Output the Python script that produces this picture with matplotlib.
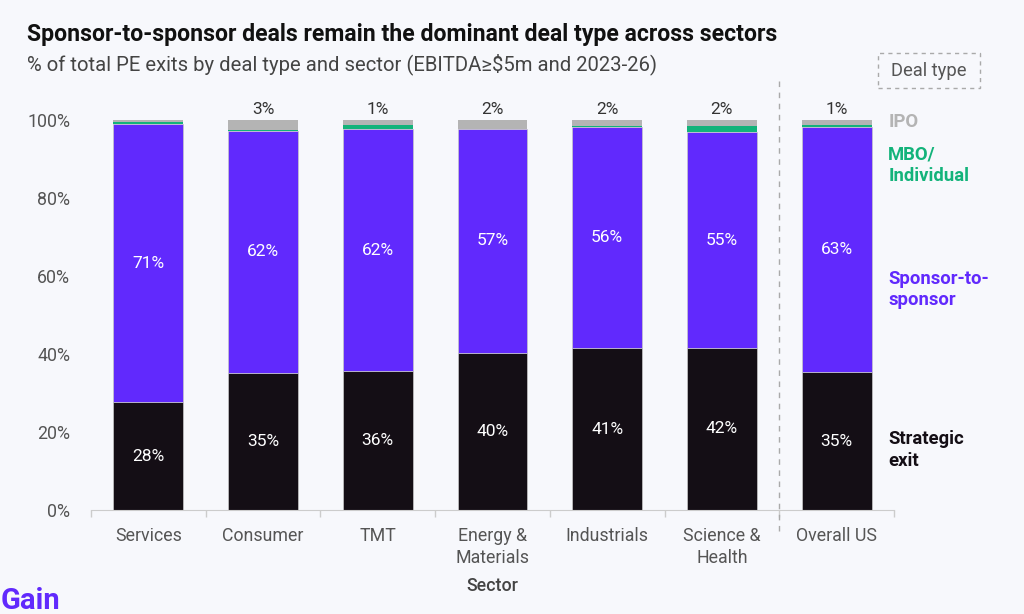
import matplotlib
matplotlib.use("Agg")

import matplotlib.pyplot as plt
from matplotlib.patches import Rectangle
import numpy as np

plt.rcParams['font.family'] = ['Roboto', 'DejaVu Sans']

# Data (% of total PE exits)
sectors = ["Services", "Consumer", "TMT", "Energy &\nMaterials", "Industrials",
           "Science &\nHealth", "Overall US"]
strategic = [27.6, 35.1, 35.6, 40.3, 41.5, 41.6, 35.3]
sponsor = [71.3, 62.2, 62.1, 57.4, 56.6, 55.2, 62.8]
mbo = [0.6, 0.1, 1.0, 0.1, 0.4, 1.7, 0.6]
ipo = [0.5, 2.6, 1.3, 2.2, 1.5, 1.5, 1.3]

strategic_lbl = ["28%", "35%", "36%", "40%", "41%", "42%", "35%"]
sponsor_lbl = ["71%", "62%", "62%", "57%", "56%", "55%", "63%"]
ipo_lbl = ["", "3%", "1%", "2%", "2%", "2%", "1%"]

yticks = [0, 20, 40, 60, 80, 100]

BG = "#f7f8fc"
C_STRAT = "#140e15"
C_S2S = "#6129fd"
C_MBO = "#13b37a"
C_IPO = "#b4b4b4"

fig = plt.figure(figsize=(10.24, 6.14), dpi=100, facecolor=BG)
ax = fig.add_axes([91 / 1024, 104 / 614, 803 / 1024, 390 / 614], facecolor=BG)

x = np.arange(len(sectors))
w = 0.61
edge = dict(edgecolor="#c8c8c8", linewidth=0.5)
b0 = np.zeros(len(x))
ax.bar(x, strategic, w, color=C_STRAT, **edge)
b0 += strategic
ax.bar(x, sponsor, w, bottom=b0, color=C_S2S, **edge)
b1 = b0 + sponsor
ax.bar(x, mbo, w, bottom=b1, color=C_MBO, linewidth=0)
b2 = b1 + mbo
ax.bar(x, ipo, w, bottom=b2, color=C_IPO, linewidth=0)
top = b2 + ipo

for i in range(len(x)):
    ax.text(x[i], strategic[i] / 2, strategic_lbl[i], ha="center", va="center",
            color="white", fontsize=12.5)
    ax.text(x[i], strategic[i] + sponsor[i] / 2, sponsor_lbl[i], ha="center",
            va="center", color="white", fontsize=12.5)
    if ipo_lbl[i]:
        ax.text(x[i], top[i] + 0.8, ipo_lbl[i], ha="center", va="bottom",
                color="#333333", fontsize=12.5, clip_on=False)

ax.set_xlim(-0.5, len(x) - 0.5)
ax.set_ylim(0, 100)
ax.set_yticks(yticks)
ax.set_yticklabels([f"{v}%" for v in yticks])
ax.set_xticks(x)
ax.set_xticklabels(sectors, linespacing=1.3)
ax.set_xticks(np.arange(-0.5, len(x)), minor=True)
ax.tick_params(axis="x", which="major", length=0, pad=12, labelsize=12.8,
               labelcolor="#555555")
ax.tick_params(axis="x", which="minor", length=5, color="#cccccc", width=1)
ax.tick_params(axis="y", length=0, pad=15, labelsize=12.8, labelcolor="#555555")
for s in ["top", "right", "left"]:
    ax.spines[s].set_visible(False)
ax.spines["bottom"].set_color("#cccccc")
ax.set_xlabel("Sector", fontsize=12.8, color="#444444", fontweight="medium",
              labelpad=7)

# divider before Overall US
ax.plot([5.5, 5.5], [-5.5, 110.5], color="#aaaaaa", lw=1, ls=(0, (4, 4)),
        clip_on=False)

# right-side labels
lx = 6.45
lab = dict(fontsize=13.3, fontweight="bold", va="center", linespacing=1.25,
           clip_on=False)
ax.text(lx, 99.5, "IPO", color=C_IPO, **lab)
ax.text(lx, 88.3, "MBO/\nIndividual", color=C_MBO, **lab)
ax.text(lx, 56.6, "Sponsor-to-\nsponsor", color=C_S2S, **lab)
ax.text(lx, 15.4, "Strategic\nexit", color=C_STRAT, **lab)

# "Deal type" dashed box
fig.patches.append(Rectangle((878 / 1024, 526 / 614), 102 / 1024, 35 / 614,
                             transform=fig.transFigure, fill=False,
                             edgecolor="#aaaaaa", lw=1, ls=(0, (3, 3))))
fig.text(929 / 1024, 543.5 / 614, "Deal type", ha="center", va="center",
         fontsize=13.2, color="#555555")

fig.text(27 / 1024, 580 / 614, "Sponsor-to-sponsor deals remain the dominant deal type across sectors",
         fontsize=16.6, fontweight="bold", color="#111111", va="center")
fig.text(27 / 1024, 550 / 614, "% of total PE exits by deal type and sector (EBITDA≥$5m and 2023-26)",
         fontsize=14.6, color="#444444", va="center")
fig.text(1 / 1024, 13 / 614, "Gain", fontsize=21, fontweight="bold",
         color=C_S2S, va="center")

fig.savefig("out.png", dpi=100, facecolor=BG)
